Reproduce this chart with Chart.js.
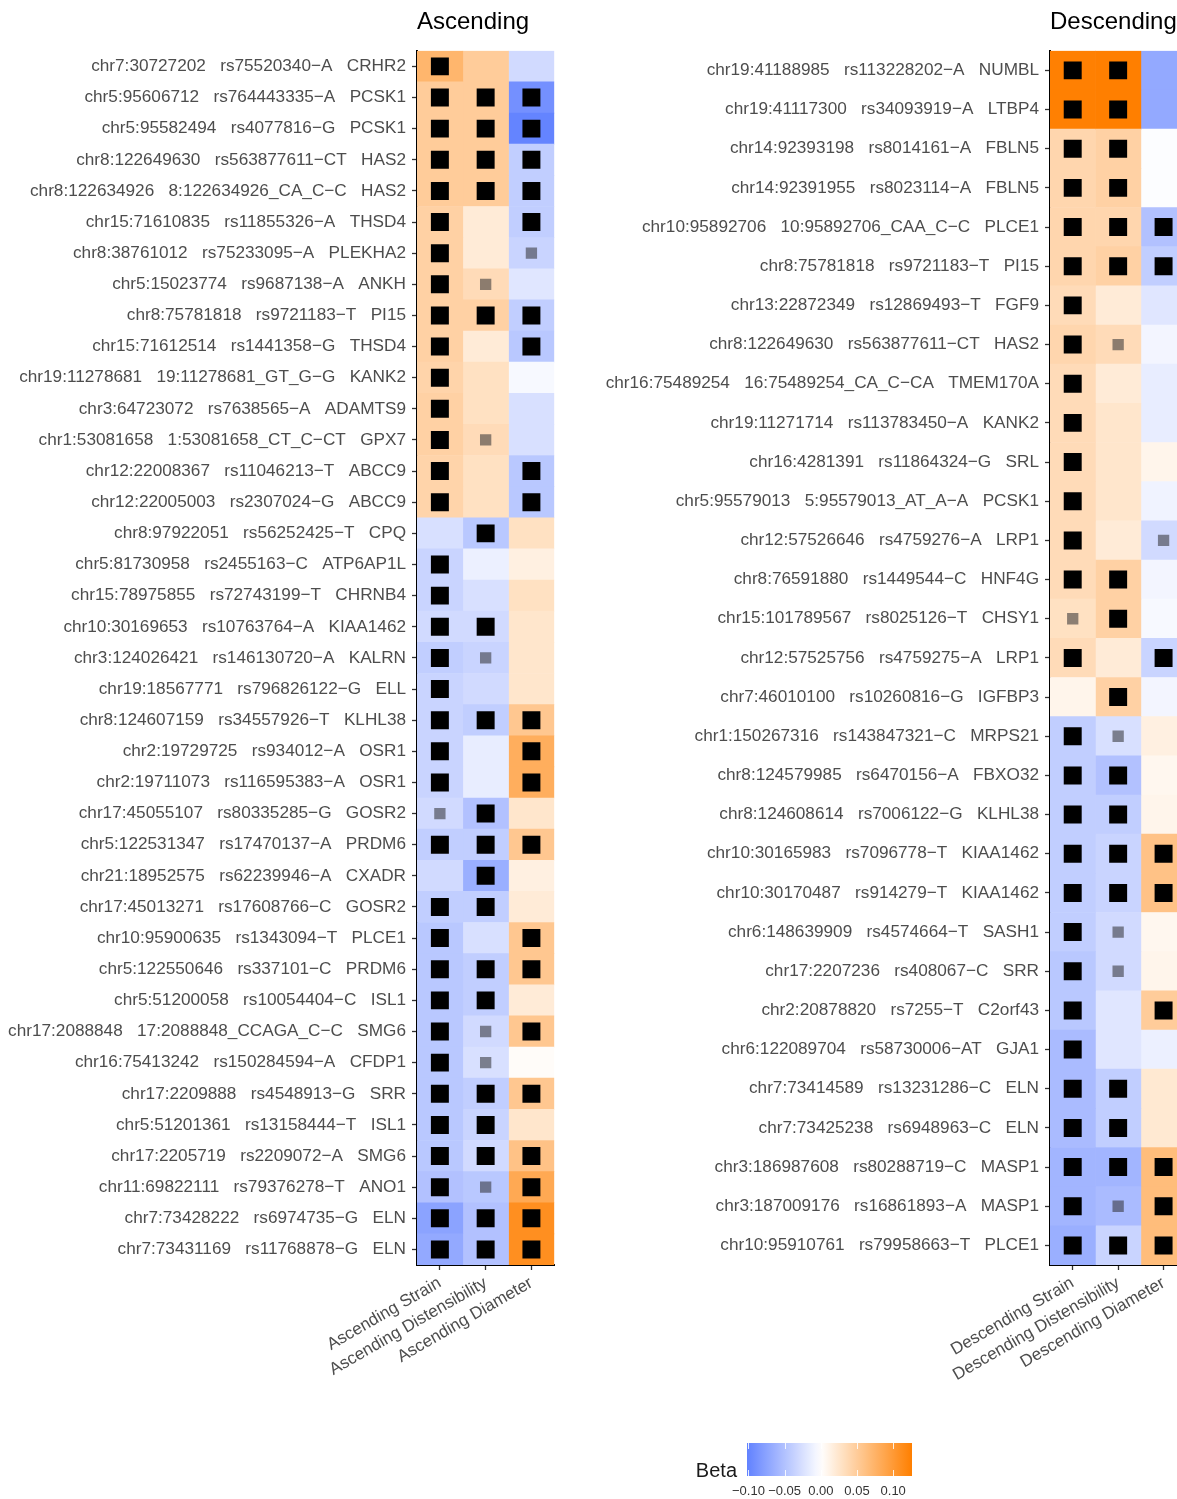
<!DOCTYPE html>
<html>
<head>
<meta charset="utf-8">
<script src="https://cdn.jsdelivr.net/npm/chart.js@4.4.1/dist/chart.umd.min.js"></script>
<style>
  html, body { margin: 0; padding: 0; background: #fff; overflow: hidden; }
  #page { position: relative; width: 1177px; height: 1499px; overflow: hidden; }
  #page canvas { position: absolute; }
</style>
</head>
<body>
<div id="page">
  <canvas id="ascChart" width="567" height="1400" style="left:0;top:0"></canvas>
  <canvas id="descChart" width="609" height="1400" style="left:590px;top:0"></canvas>
  <canvas id="betaLegend" width="260" height="79" style="left:680px;top:1420px"></canvas>
</div>
<script>
// ---- Ascending aorta ----
const ascLabels = [
  "chr7:30727202   rs75520340-A   CRHR2",
  "chr5:95606712   rs764443335-A   PCSK1",
  "chr5:95582494   rs4077816-G   PCSK1",
  "chr8:122649630   rs563877611-CT   HAS2",
  "chr8:122634926   8:122634926_CA_C-C   HAS2",
  "chr15:71610835   rs11855326-A   THSD4",
  "chr8:38761012   rs75233095-A   PLEKHA2",
  "chr5:15023774   rs9687138-A   ANKH",
  "chr8:75781818   rs9721183-T   PI15",
  "chr15:71612514   rs1441358-G   THSD4",
  "chr19:11278681   19:11278681_GT_G-G   KANK2",
  "chr3:64723072   rs7638565-A   ADAMTS9",
  "chr1:53081658   1:53081658_CT_C-CT   GPX7",
  "chr12:22008367   rs11046213-T   ABCC9",
  "chr12:22005003   rs2307024-G   ABCC9",
  "chr8:97922051   rs56252425-T   CPQ",
  "chr5:81730958   rs2455163-C   ATP6AP1L",
  "chr15:78975855   rs72743199-T   CHRNB4",
  "chr10:30169653   rs10763764-A   KIAA1462",
  "chr3:124026421   rs146130720-A   KALRN",
  "chr19:18567771   rs796826122-G   ELL",
  "chr8:124607159   rs34557926-T   KLHL38",
  "chr2:19729725   rs934012-A   OSR1",
  "chr2:19711073   rs116595383-A   OSR1",
  "chr17:45055107   rs80335285-G   GOSR2",
  "chr5:122531347   rs17470137-A   PRDM6",
  "chr21:18952575   rs62239946-A   CXADR",
  "chr17:45013271   rs17608766-C   GOSR2",
  "chr10:95900635   rs1343094-T   PLCE1",
  "chr5:122550646   rs337101-C   PRDM6",
  "chr5:51200058   rs10054404-C   ISL1",
  "chr17:2088848   17:2088848_CCAGA_C-C   SMG6",
  "chr16:75413242   rs150284594-A   CFDP1",
  "chr17:2209888   rs4548913-G   SRR",
  "chr5:51201361   rs13158444-T   ISL1",
  "chr17:2205719   rs2209072-A   SMG6",
  "chr11:69822111   rs79376278-T   ANO1",
  "chr7:73428222   rs6974735-G   ELN",
  "chr7:73431169   rs11768878-G   ELN"
];
const ascColumns = ["Ascending Strain", "Ascending Distensibility", "Ascending Diameter"];

const ascStrain = [0.072, 0.05, 0.05, 0.05, 0.05, 0.045, 0.045, 0.045, 0.045, 0.045, 0.042, 0.045, 0.045, 0.042, 0.042,
  -0.025, -0.035, -0.035, -0.03, -0.04, -0.035, -0.035, -0.035, -0.035, -0.03, -0.04, -0.03, -0.04, -0.045, -0.045,
  -0.045, -0.045, -0.045, -0.045, -0.045, -0.045, -0.05, -0.075, -0.07];
const ascDist = [0.05, 0.05, 0.05, 0.05, 0.05, 0.02, 0.02, 0.035, 0.045, 0.02, 0.03, 0.03, 0.035, 0.03, 0.03,
  -0.045, -0.012, -0.025, -0.03, -0.035, -0.03, -0.04, -0.015, -0.015, -0.05, -0.04, -0.065, -0.04, -0.025, -0.04,
  -0.04, -0.03, -0.025, -0.04, -0.035, -0.03, -0.045, -0.05, -0.05];
const ascDiam = [-0.03, -0.09, -0.1, -0.04, -0.04, -0.04, -0.035, -0.02, -0.04, -0.045, -0.005, -0.025, -0.025, -0.045, -0.045,
  0.03, 0.015, 0.03, 0.025, 0.025, 0.025, 0.055, 0.08, 0.08, 0.025, 0.055, 0.015, 0.02, 0.055, 0.055,
  0.02, 0.055, 0.003, 0.055, 0.025, 0.06, 0.085, 0.11, 0.11];

// 2 = significant, 1 = nominal, 0 = none
const ascStrainSig = [2, 2, 2, 2, 2, 2, 2, 2, 2, 2, 2, 2, 2, 2, 2, 0, 2, 2, 2, 2, 2, 2, 2, 2, 1, 2, 0, 2, 2, 2, 2, 2, 2, 2, 2, 2, 2, 2, 2];
const ascDistSig = [0, 2, 2, 2, 2, 0, 0, 1, 2, 0, 0, 0, 1, 0, 0, 2, 0, 0, 2, 1, 0, 2, 0, 0, 2, 2, 2, 2, 0, 2, 2, 1, 1, 2, 2, 2, 1, 2, 2];
const ascDiamSig = [0, 2, 2, 2, 2, 2, 1, 0, 2, 2, 0, 0, 0, 2, 2, 0, 0, 0, 0, 0, 0, 2, 2, 2, 0, 2, 0, 0, 2, 2, 0, 2, 0, 2, 0, 2, 2, 2, 2];

// ---- Descending aorta ----
const descLabels = [
  "chr19:41188985   rs113228202-A   NUMBL",
  "chr19:41117300   rs34093919-A   LTBP4",
  "chr14:92393198   rs8014161-A   FBLN5",
  "chr14:92391955   rs8023114-A   FBLN5",
  "chr10:95892706   10:95892706_CAA_C-C   PLCE1",
  "chr8:75781818   rs9721183-T   PI15",
  "chr13:22872349   rs12869493-T   FGF9",
  "chr8:122649630   rs563877611-CT   HAS2",
  "chr16:75489254   16:75489254_CA_C-CA   TMEM170A",
  "chr19:11271714   rs113783450-A   KANK2",
  "chr16:4281391   rs11864324-G   SRL",
  "chr5:95579013   5:95579013_AT_A-A   PCSK1",
  "chr12:57526646   rs4759276-A   LRP1",
  "chr8:76591880   rs1449544-C   HNF4G",
  "chr15:101789567   rs8025126-T   CHSY1",
  "chr12:57525756   rs4759275-A   LRP1",
  "chr7:46010100   rs10260816-G   IGFBP3",
  "chr1:150267316   rs143847321-C   MRPS21",
  "chr8:124579985   rs6470156-A   FBXO32",
  "chr8:124608614   rs7006122-G   KLHL38",
  "chr10:30165983   rs7096778-T   KIAA1462",
  "chr10:30170487   rs914279-T   KIAA1462",
  "chr6:148639909   rs4574664-T   SASH1",
  "chr17:2207236   rs408067-C   SRR",
  "chr2:20878820   rs7255-T   C2orf43",
  "chr6:122089704   rs58730006-AT   GJA1",
  "chr7:73414589   rs13231286-C   ELN",
  "chr7:73425238   rs6948963-C   ELN",
  "chr3:186987608   rs80288719-C   MASP1",
  "chr3:187009176   rs16861893-A   MASP1",
  "chr10:95910761   rs79958663-T   PLCE1"
];
const descColumns = ["Descending Strain", "Descending Distensibility", "Descending Diameter"];

const descStrain = [0.125, 0.125, 0.04, 0.04, 0.04, 0.04, 0.035, 0.04, 0.035, 0.035, 0.035, 0.035, 0.035, 0.035, 0.03, 0.035, 0.01,
  -0.04, -0.04, -0.04, -0.04, -0.04, -0.04, -0.045, -0.045, -0.055, -0.055, -0.055, -0.06, -0.06, -0.065];
const descDist = [0.126, 0.126, 0.045, 0.045, 0.04, 0.045, 0.02, 0.035, 0.02, 0.025, 0.025, 0.025, 0.02, 0.045, 0.045, 0.02, 0.045,
  -0.025, -0.05, -0.04, -0.035, -0.035, -0.03, -0.03, -0.02, -0.02, -0.04, -0.04, -0.06, -0.055, -0.035];
const descDiam = [-0.07, -0.07, -0.002, -0.002, -0.05, -0.04, -0.02, -0.008, -0.015, -0.015, 0.01, -0.01, -0.03, -0.008, -0.005, -0.035, -0.008,
  0.015, 0.008, 0.01, 0.06, 0.06, 0.008, 0.01, 0.05, -0.012, 0.022, 0.022, 0.065, 0.065, 0.065];

const descStrainSig = [2, 2, 2, 2, 2, 2, 2, 2, 2, 2, 2, 2, 2, 2, 1, 2, 0, 2, 2, 2, 2, 2, 2, 2, 2, 2, 2, 2, 2, 2, 2];
const descDistSig = [2, 2, 2, 2, 2, 2, 0, 1, 0, 0, 0, 0, 0, 2, 2, 0, 2, 1, 2, 2, 2, 2, 1, 1, 0, 0, 2, 2, 2, 1, 2];
const descDiamSig = [0, 0, 0, 0, 2, 2, 0, 0, 0, 0, 0, 0, 1, 0, 0, 2, 0, 0, 0, 0, 2, 2, 0, 0, 2, 0, 0, 0, 2, 2, 2];

// ---- Beta colour scale ----
const betaBreaks = [-0.10, -0.05, 0.00, 0.05, 0.10];
const betaRange = [-0.102, 0.126];

const FONT = "'Liberation Sans', Arial, Helvetica, sans-serif";
const LOW_RGB = [60, 100, 255];
const HIGH_RGB = [255, 127, 0];
const betaLimit = Math.max(Math.abs(betaRange[0]), Math.abs(betaRange[1]));

// diverging scale: blue -> white -> orange, centred on zero
function betaColor(beta) {
  const t = Math.max(-1, Math.min(1, beta / betaLimit));
  const end = t < 0 ? LOW_RGB : HIGH_RGB;
  const k = Math.abs(t);
  const rgb = end.map((c) => Math.round(255 + (c - 255) * k));
  return `rgb(${rgb[0]}, ${rgb[1]}, ${rgb[2]})`;
}

function axisText(text) {
  return text.replace(/-/g, "\u2212");
}

function heatmap(canvasId, title, rowLabels, columns, betas, marks, axisWidth) {
  const datasets = [];

  columns.forEach((col, c) => {
    datasets.push({
      type: "bar",
      label: col,
      data: rowLabels.map(() => [c - 0.5, c + 0.5]),
      backgroundColor: betas[c].map(betaColor),
      borderWidth: 0,
      grouped: false,
      barPercentage: 1,
      categoryPercentage: 1,
      order: 2
    });
  });

  columns.forEach((col, c) => {
    datasets.push({
      type: "scatter",
      label: col + " significance",
      data: rowLabels.map((row) => ({ x: c, y: row })),
      pointStyle: "rect",
      pointRadius: marks[c].map((m) => (m === 2 ? 12.7 : m === 1 ? 8 : 0)),
      pointBackgroundColor: marks[c].map((m) => (m === 2 ? "#000000" : "rgba(45, 45, 50, 0.55)")),
      pointBorderWidth: 0,
      order: 1
    });
  });

  return new Chart(document.getElementById(canvasId), {
    type: "bar",
    data: { labels: rowLabels, datasets: datasets },
    options: {
      indexAxis: "y",
      responsive: false,
      animation: false,
      events: [],
      layout: { padding: 0 },
      plugins: {
        legend: { display: false },
        tooltip: { enabled: false },
        title: {
          display: true,
          text: title,
          align: "start",
          fullSize: false,
          color: "#000000",
          font: { family: FONT, size: 24, weight: "normal" },
          padding: { top: 8, bottom: 14 }
        }
      },
      scales: {
        x: {
          type: "linear",
          position: "bottom",
          min: -0.5,
          max: 2.5,
          afterBuildTicks: (scale) => {
            scale.ticks = columns.map((_, i) => ({ value: i }));
          },
          afterFit: (scale) => {
            scale.height = 135;
          },
          ticks: {
            autoSkip: false,
            minRotation: 30,
            maxRotation: 30,
            padding: 3,
            color: "#4d4d4d",
            font: { family: FONT, size: 17 },
            callback: (value) => columns[value]
          },
          grid: { drawOnChartArea: false, tickLength: 5, tickColor: "#333333", tickWidth: 1.3 },
          border: { display: true, color: "#000000", width: 2 }
        },
        y: {
          type: "category",
          offset: true,
          afterFit: (scale) => {
            scale.width = axisWidth;
          },
          ticks: {
            autoSkip: false,
            padding: 6,
            color: "#4d4d4d",
            font: { family: FONT, size: 17.2 },
            callback: (value, index) => axisText(rowLabels[index])
          },
          grid: { drawOnChartArea: false, offset: false, tickLength: 5, tickColor: "#333333", tickWidth: 1.3 },
          border: { display: true, color: "#000000", width: 2 }
        }
      }
    }
  });
}

heatmap("ascChart", "Ascending", ascLabels, ascColumns,
  [ascStrain, ascDist, ascDiam], [ascStrainSig, ascDistSig, ascDiamSig], 417);

heatmap("descChart", "Descending", descLabels, descColumns,
  [descStrain, descDist, descDiam], [descStrainSig, descDistSig, descDiamSig], 460);

// colour bar with its own x scale
const colorBar = {
  id: "colorBar",
  beforeDatasetsDraw(chart) {
    const { ctx, chartArea } = chart;
    const x = chart.scales.x;
    const left = x.getPixelForValue(betaRange[0]);
    const right = x.getPixelForValue(betaRange[1]);
    const grad = ctx.createLinearGradient(left, 0, right, 0);
    const steps = 24;
    for (let i = 0; i <= steps; i++) {
      const v = betaRange[0] + (betaRange[1] - betaRange[0]) * i / steps;
      grad.addColorStop(i / steps, betaColor(v));
    }
    ctx.save();
    ctx.fillStyle = grad;
    ctx.fillRect(left, chartArea.top, right - left, chartArea.bottom - chartArea.top);

    ctx.strokeStyle = "rgba(255, 255, 255, 0.85)";
    ctx.lineWidth = 1;
    betaBreaks.forEach((b) => {
      const px = Math.round(x.getPixelForValue(b)) + 0.5;
      ctx.beginPath();
      ctx.moveTo(px, chartArea.top);
      ctx.lineTo(px, chartArea.top + 6);
      ctx.moveTo(px, chartArea.bottom - 6);
      ctx.lineTo(px, chartArea.bottom);
      ctx.stroke();
    });

    ctx.fillStyle = "#1a1a1a";
    ctx.font = `20px ${FONT}`;
    ctx.textAlign = "right";
    ctx.textBaseline = "alphabetic";
    ctx.fillText("Beta", left - 10, chartArea.bottom + 1);
    ctx.restore();
  }
};

new Chart(document.getElementById("betaLegend"), {
  type: "bar",
  data: { labels: [], datasets: [] },
  plugins: [colorBar],
  options: {
    responsive: false,
    animation: false,
    events: [],
    layout: { padding: { left: 67, right: 28, top: 23, bottom: 0 } },
    plugins: { legend: { display: false }, tooltip: { enabled: false } },
    scales: {
      x: {
        type: "linear",
        offset: false,
        min: betaRange[0],
        max: betaRange[1],
        afterBuildTicks: (scale) => {
          scale.ticks = betaBreaks.map((v) => ({ value: v }));
        },
        afterFit: (scale) => {
          scale.height = 23;
        },
        ticks: {
          padding: 8,
          maxRotation: 0,
          color: "#333333",
          font: { family: FONT, size: 13 },
          callback: (value) => axisText(value.toFixed(2))
        },
        grid: { display: false, drawTicks: false },
        border: { display: false }
      },
      y: { display: false }
    }
  }
});
</script>
</body>
</html>
